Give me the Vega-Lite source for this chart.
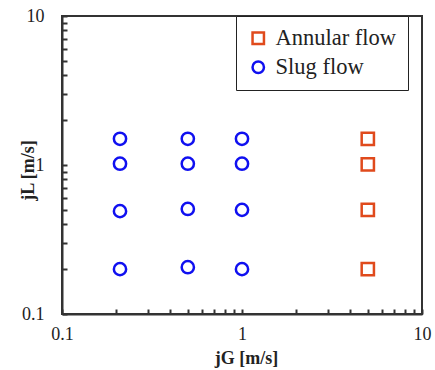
{
  "$schema": "https://vega.github.io/schema/vega-lite/v6.json",
  "autosize": "none",
  "width": 360,
  "height": 298,
  "padding": {"left": 62, "top": 16, "right": 13, "bottom": 56},
  "background": "white",
  "config": {
    "view": {"stroke": "#333333", "strokeWidth": 2},
    "font": "Liberation Serif"
  },
  "data": {
    "values": [
      {"jG": 0.21, "jL": 0.2, "regime": "Slug flow"},
      {"jG": 0.5, "jL": 0.206, "regime": "Slug flow"},
      {"jG": 1.0, "jL": 0.2, "regime": "Slug flow"},
      {"jG": 0.21, "jL": 0.49, "regime": "Slug flow"},
      {"jG": 0.5, "jL": 0.507, "regime": "Slug flow"},
      {"jG": 1.0, "jL": 0.5, "regime": "Slug flow"},
      {"jG": 0.21, "jL": 1.02, "regime": "Slug flow"},
      {"jG": 0.5, "jL": 1.02, "regime": "Slug flow"},
      {"jG": 1.0, "jL": 1.02, "regime": "Slug flow"},
      {"jG": 0.21, "jL": 1.5, "regime": "Slug flow"},
      {"jG": 0.5, "jL": 1.5, "regime": "Slug flow"},
      {"jG": 1.0, "jL": 1.5, "regime": "Slug flow"},
      {"jG": 5.0, "jL": 0.2, "regime": "Annular flow"},
      {"jG": 5.0, "jL": 0.5, "regime": "Annular flow"},
      {"jG": 5.0, "jL": 1.01, "regime": "Annular flow"},
      {"jG": 5.0, "jL": 1.5, "regime": "Annular flow"}
    ]
  },
  "mark": {"type": "point", "filled": false, "strokeWidth": 2.5, "size": 150, "opacity": 1},
  "encoding": {
    "x": {
      "field": "jG", "type": "quantitative",
      "scale": {"type": "log", "domain": [0.1, 10], "nice": false},
      "axis": {
        "title": "jG [m/s]",
        "titleFont": "Liberation Serif", "titleFontSize": 18, "titleFontWeight": "bold", "titleColor": "#222",
        "titleX": 184, "titleY": 49, "titleBaseline": "alphabetic", "titleAnchor": "middle", "titleAlign": "center",
        "values": [0.1,0.2,0.3,0.4,0.5,0.6,0.7,0.8,0.9,1,2,3,4,5,6,7,8,9,10],
        "labelExpr": "datum.value == 0.1 ? '0.1' : (datum.value == 1 ? '1' : (datum.value == 10 ? '10' : ''))",
        "labelFont": "Liberation Serif", "labelFontSize": 18, "labelColor": "#222",
        "labelPadding": 16, "labelFlush": false, "labelOverlap": false,
        "tickSize": -5, "tickColor": "#333", "tickWidth": 2,
        "domainColor": "#333", "domainWidth": 2, "grid": false
      }
    },
    "y": {
      "field": "jL", "type": "quantitative",
      "scale": {"type": "log", "domain": [0.1, 10], "nice": false},
      "axis": {
        "title": "jL [m/s]",
        "titleFont": "Liberation Serif", "titleFontSize": 18, "titleFontWeight": "bold", "titleColor": "#222",
        "titleX": -29, "titleY": 154, "titleBaseline": "alphabetic", "titleAngle": 270, "titleAlign": "center",
        "values": [0.1,0.2,0.3,0.4,0.5,0.6,0.7,0.8,0.9,1,2,3,4,5,6,7,8,9,10],
        "labelExpr": "datum.value == 0.1 ? '0.1' : (datum.value == 1 ? '1' : (datum.value == 10 ? '10' : ''))",
        "labelFont": "Liberation Serif", "labelFontSize": 18, "labelColor": "#222",
        "labelPadding": 23, "labelFlush": false, "labelOverlap": false,
        "tickSize": -5, "tickColor": "#333", "tickWidth": 2,
        "domainColor": "#333", "domainWidth": 2, "grid": false
      }
    },
    "color": {
      "field": "regime", "type": "nominal",
      "scale": {"domain": ["Annular flow", "Slug flow"], "range": ["#E04A1C", "#1010F0"]},
      "legend": {
        "title": null, "orient": "none", "legendX": 174, "legendY": 0,
        "strokeColor": "#222", "padding": 11, "fillColor": "white",
        "labelFont": "Liberation Serif", "labelFontSize": 22.5, "labelColor": "#222",
        "symbolSize": 130, "symbolStrokeWidth": 2.5, "rowPadding": 6, "labelOffset": 6
      }
    },
    "shape": {
      "field": "regime", "type": "nominal",
      "scale": {"domain": ["Annular flow", "Slug flow"], "range": ["square", "circle"]}
    }
  }
}
